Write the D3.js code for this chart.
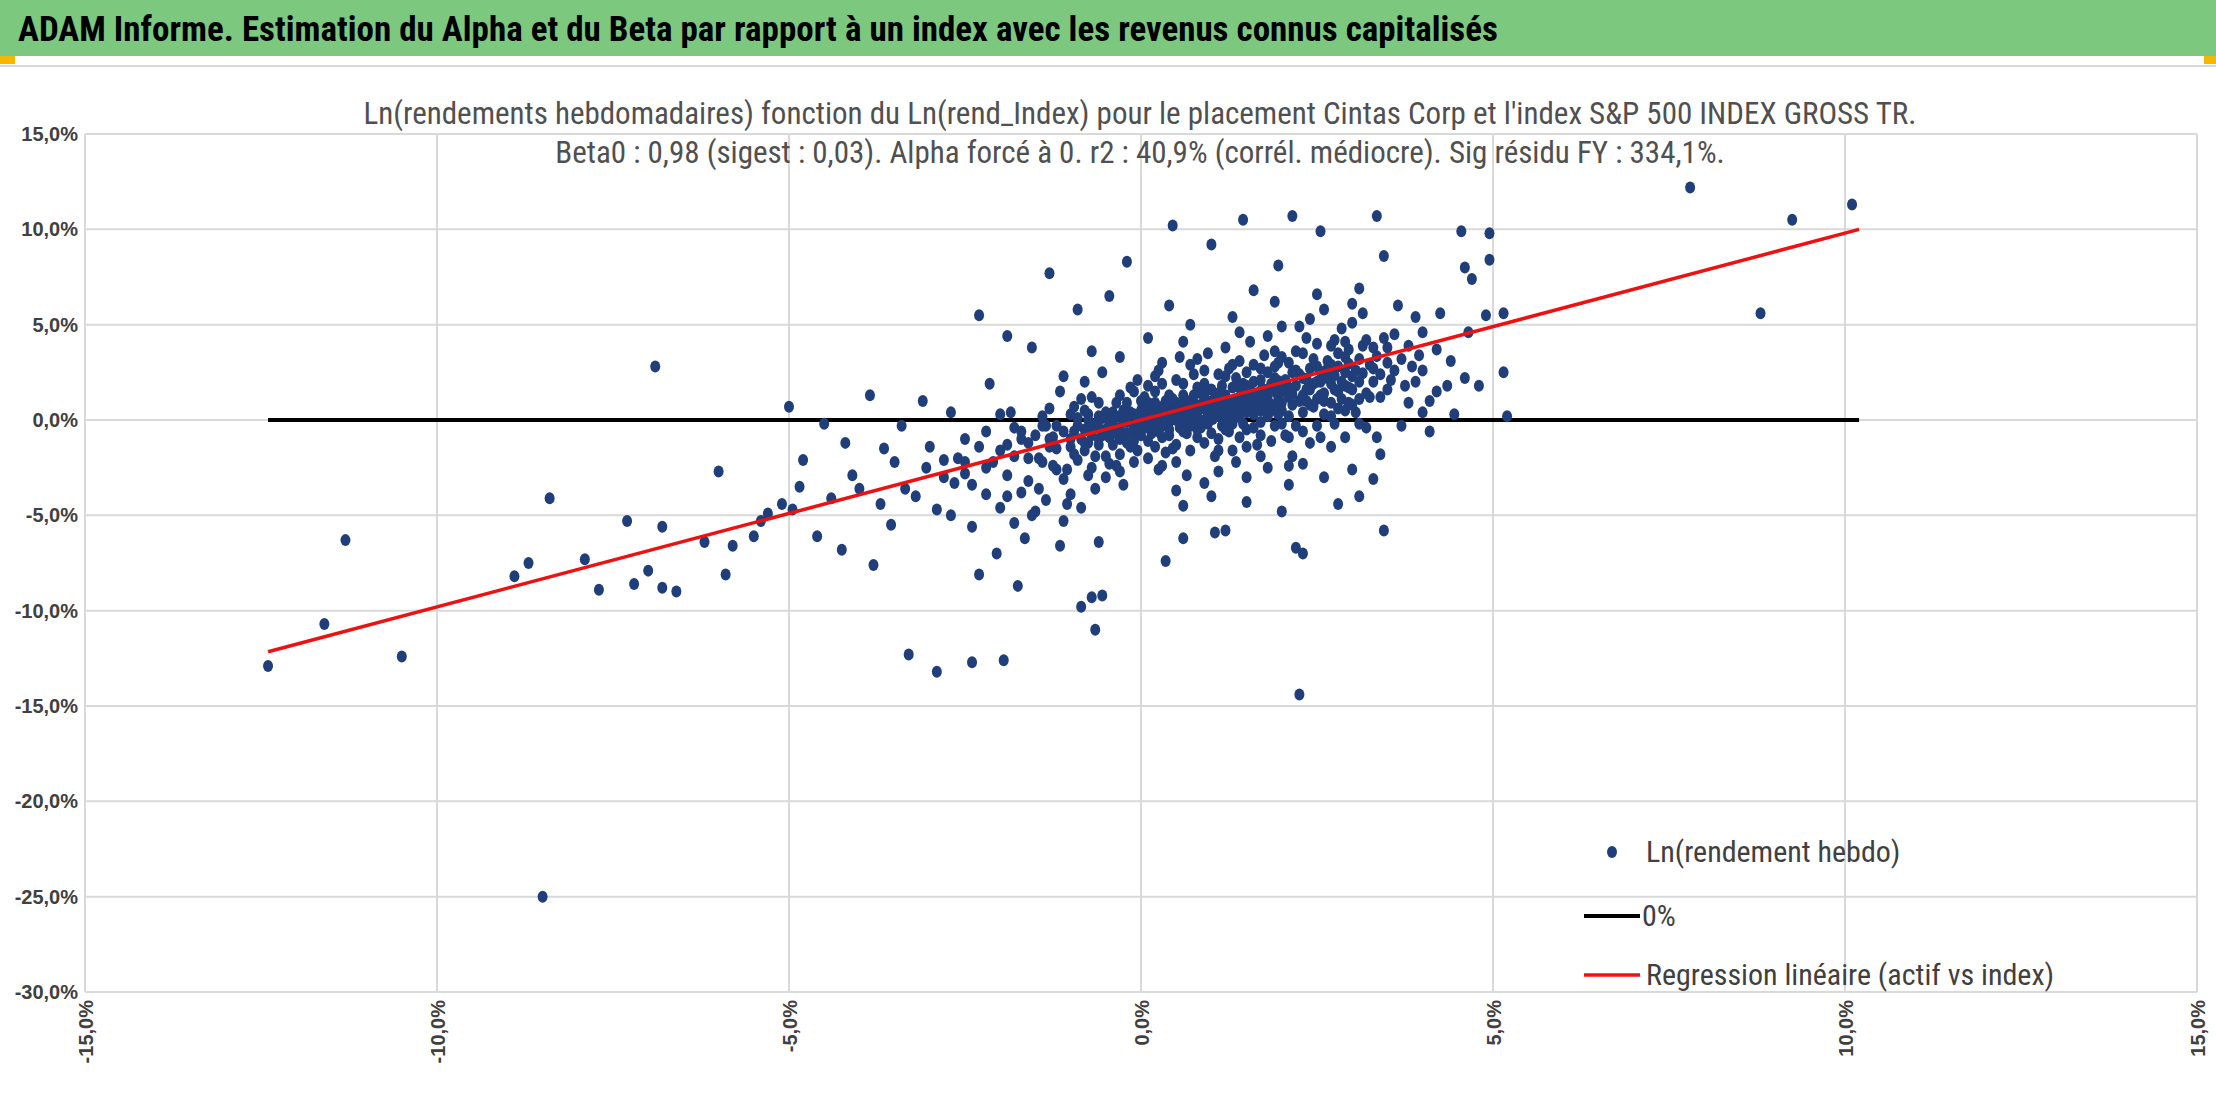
<!DOCTYPE html>
<html><head><meta charset="utf-8">
<script src="https://cdn.jsdelivr.net/npm/d3@7/dist/d3.min.js"></script>
<style>
body{margin:0;background:#fff;}
svg{display:block;font-family:"Liberation Sans Narrow","Roboto Condensed",Arial,sans-serif;}
</style></head>
<body><div id="chart"></div>
<script>
// weekly log returns (%): [index, asset]
const outliers = [
 [-12.4,-12.9],[-11.6,-10.7],[-11.3,-6.3],[-10.5,-12.4],[-8.9,-8.2],[-8.7,-7.5],[-8.4,-4.1],[-8.5,-25.0],
 [-7.9,-7.3],[-7.7,-8.9],[-7.3,-5.3],[-7.2,-8.6],[-7.0,-7.9],[-6.9,2.8],[-6.8,-5.6],[-6.8,-8.8],[-6.6,-9.0],
 [-6.2,-6.4],[-6.0,-2.7],[-5.9,-8.1],[-5.8,-6.6],[-5.5,-6.1],[-5.4,-5.3],[-5.3,-4.9],[-5.1,-4.4],[-5.0,0.7],
 [-4.95,-4.7],[-4.85,-3.5],[-4.8,-2.1],[-4.6,-6.1],[-4.5,-0.2],[-4.4,-4.1],[-4.25,-6.8],[-4.2,-1.2],[-4.1,-2.9],
 [-4.0,-3.6],[-3.85,1.3],[-3.8,-7.6],[-3.7,-4.4],[-3.65,-1.5],[-3.55,-5.5],[-3.4,-0.3],[-3.3,-12.3],[-3.35,-3.6],
 [-3.2,-4.0],[-3.1,1.0],[-3.05,-2.5],[-2.9,-13.2],[-2.9,-4.7],[-2.8,-2.1],[-2.7,0.4],[-2.65,-3.3],[-2.5,-1.0],
 [-2.4,-5.6],[-2.4,-12.7],[-2.3,-8.1],[-2.3,5.5],[-2.2,-2.5],[-2.15,1.9],[-2.05,-7.0],[-1.95,-12.6],[-1.9,-4.0],
 [-1.9,4.4],[-1.85,0.4],[-1.75,-8.7],[-1.7,-1.0],[-1.65,-6.2],[-1.55,3.8],[-1.45,-3.6],[-1.35,-0.3],[-1.3,7.7],
 [-1.25,-2.4],[-1.15,-6.6],[-1.1,2.3],[-1.05,-4.4],[-1.0,-1.0],[-0.9,5.8],[-0.85,-9.8],[-0.75,-2.9],[-0.7,-9.3],
 [-0.65,-11.0],[-0.55,-9.2],[-0.6,-6.4],[-0.5,0.4],[-0.45,6.5],[-0.2,8.3],[0.35,-7.4],[0.45,10.2],[0.6,-6.2],
 [1.05,-5.9],[1.2,-5.8],[1.0,9.2],[1.45,10.5],[1.95,8.1],[2.1,-3.4],[2.15,10.7],[2.2,-6.7],[2.3,-7.0],[2.25,-14.4],
 [2.55,9.9],[2.8,-4.4],[3.1,-4.0],[3.35,10.7],[3.45,8.6],[3.4,-1.8],[3.45,-5.8],[3.85,2.8],[4.0,0.4],[4.1,1.0],
 [4.25,5.6],[4.35,1.8],[4.45,0.3],[4.55,9.9],[4.6,8.0],[4.65,4.6],[4.7,7.4],[4.8,1.8],[4.9,5.5],[4.95,9.8],
 [4.95,8.4],[5.15,2.5],[5.2,0.2],[5.15,5.6],[7.8,12.2],[9.25,10.5],[8.8,5.6],[10.1,11.3]
];
const cloud = [
 [-1.5,-0.8],[-1.4,-2.2],[-1.3,0.6],[-1.2,-1.5],[-1.1,-3.1],[-1.0,0.3],[-0.95,-1.8],[-0.9,-2.1],[-0.85,1.1],[-0.8,-0.5],
 [-0.75,-1.2],[-0.7,1.2],[-0.65,-3.6],[-0.6,-1.3],[-0.55,0.1],[-0.5,-3.0],[-0.45,-0.9],[-0.4,-0.2],[-0.35,-2.4],[-0.3,-1.8],
 [-0.25,0.5],[-0.2,0.9],[-0.15,-1.4],[-0.1,-0.6],[-0.05,2.1],[0.0,0.2],[0.05,-0.4],[0.1,-1.1],[0.15,0.8],[0.2,1.5],
 [0.25,-2.6],[0.3,-0.3],[0.35,1.0],[0.4,0.6],[0.45,-1.5],[0.5,-2.2],[0.55,0.3],[0.6,1.9],[0.65,-0.7],[0.7,0.1],
 [0.75,2.4],[0.8,-0.9],[0.85,1.4],[0.9,2.6],[0.95,-0.2],[1.0,0.8],[1.05,-1.9],[1.1,-1.6],[1.15,1.8],[1.2,1.3],
 [1.25,-0.6],[1.3,0.4],[1.35,2.2],[1.4,3.1],[1.45,0.9],[1.5,-0.5],[1.55,1.6],[1.6,2.0],[1.65,-1.3],[1.7,1.0],
 [1.75,3.4],[1.8,-2.5],[1.85,0.5],[1.9,2.8],[1.95,1.2],[2.0,1.6],[2.05,-0.8],[2.1,0.2],[2.15,2.5],[2.2,3.6],
 [2.25,1.0],[2.3,2.2],[2.35,4.3],[2.4,-1.2],[2.45,0.7],[2.5,4.0],[2.55,2.0],[2.6,1.4],[2.65,3.1],[2.7,2.9],
 [2.75,-0.2],[2.8,0.6],[2.85,4.8],[2.9,3.3],[2.95,1.7],[3.0,5.1],[3.05,2.6],[3.1,2.0],[3.15,3.9],[3.2,-0.4],
 [3.25,1.2],[3.3,3.8],[3.4,2.4],[3.5,1.6],[3.6,4.5],[3.7,3.2],[3.8,0.9],[3.9,5.4],[4.0,2.6],[4.2,3.7],
 [-2.0,-1.6],[-1.9,-2.9],[-1.8,-0.4],[-1.7,-3.8],[-1.6,-1.2],[-1.55,-5.0],[-1.45,-2.0],[-1.35,-4.2],[-1.25,-0.9],[-1.15,1.5],
 [-1.05,-2.6],[-0.95,0.7],[-0.85,-4.6],[-0.75,0.0],[-0.65,-1.9],[-0.55,2.5],[-0.45,-2.3],[-0.35,0.9],[-0.25,-3.4],[-0.15,1.7],
 [-0.05,-1.6],[0.05,1.2],[0.15,-0.7],[0.25,2.6],[0.35,-1.7],[0.45,0.4],[0.55,3.3],[0.65,-2.9],[0.75,0.9],[0.85,-0.4],
 [0.95,3.5],[1.05,1.1],[1.15,-0.3],[1.25,2.7],[1.35,-2.2],[1.45,1.9],[1.55,4.1],[1.65,0.6],[1.75,1.5],[1.85,-1.1],
 [1.95,3.0],[2.05,2.1],[2.15,-1.9],[2.25,4.9],[2.35,1.6],[2.45,3.2],[2.55,-0.9],[2.65,2.3],[2.75,4.2],[2.85,1.1],
 [2.95,3.7],[3.05,0.4],[3.15,5.6],[3.25,2.9],[3.35,-0.9],[3.45,4.3],[3.55,2.1],[3.65,6.0],[3.75,1.8],[3.95,3.4],
 [-0.9,-0.3],[-0.8,0.5],[-0.7,-0.8],[-0.6,0.2],[-0.5,-0.5],[-0.4,0.4],[-0.3,-0.4],[-0.2,-0.1],[-0.1,0.3],[0.0,-0.3],
 [0.1,0.4],[0.2,-0.2],[0.3,0.7],[0.4,-0.1],[0.5,0.9],[0.6,0.2],[0.7,1.0],[0.8,0.4],[0.9,1.2],[1.0,0.3],
 [1.1,1.4],[1.2,0.5],[1.3,1.7],[1.4,0.6],[1.5,1.8],[1.6,0.9],[1.7,2.1],[1.8,1.1],[1.9,2.2],[2.0,0.9],
 [-0.6,-0.4],[-0.4,-0.7],[-0.2,0.1],[0.0,-0.8],[0.2,0.4],[0.4,-0.5],[0.6,0.8],[0.8,0.1],[1.0,1.0],[1.2,0.0],
 [1.4,1.2],[1.6,0.3],[1.8,1.6],[2.0,0.5],[2.2,1.8],[2.4,0.8],[2.6,2.2],[2.8,1.5],[3.0,2.3],[3.2,1.4],
 [-0.3,-1.0],[-0.1,-1.1],[0.1,0.9],[0.3,-0.9],[0.5,0.0],[0.7,-0.3],[0.9,0.6],[1.1,0.2],[1.3,-0.2],[1.5,0.4],
 [1.7,-0.1],[1.9,0.8],[2.1,1.2],[2.3,0.4],[2.5,1.1],[2.7,1.9],[2.9,2.5],[3.1,1.1],[3.3,2.0],[3.5,3.0],
 [-1.2,-0.3],[-1.0,-1.4],[-0.8,-1.6],[-0.6,0.9],[-0.4,-1.3],[-0.2,-0.7],[0.0,1.0],[0.2,-1.4],[0.4,1.3],[0.6,-0.6],
 [0.8,1.7],[1.0,-0.7],[1.2,2.3],[1.4,-0.9],[1.6,2.9],[1.8,0.2],[2.0,3.3],[2.2,-0.3],[2.4,2.7],[2.6,0.3],
 [2.8,3.5],[3.0,0.8],[3.2,4.2],[3.4,1.2],[3.6,2.6],[3.8,3.9],[4.0,4.6],[4.2,1.5],[4.4,3.1],[4.6,2.2],
 [-2.6,-2.0],[-2.4,-3.4],[-2.2,-0.6],[-2.0,-4.6],[-1.8,-1.9],[-1.6,-3.2],[-1.4,0.2],[-1.2,-2.6],[-1.0,-3.9],[-0.8,2.0],
 [0.3,3.0],[0.6,4.1],[0.9,-3.3],[1.2,3.8],[1.5,-3.0],[1.8,4.4],[2.1,-2.4],[2.4,5.3],[2.7,-1.4],[3.0,6.1],
 [0.2,2.3],[0.5,-3.7],[0.8,3.2],[1.1,-2.7],[1.4,4.6],[1.7,-1.9],[2.0,4.9],[2.3,-2.3],[2.6,5.8],[2.9,-0.9],
 [0.7,5.0],[1.3,5.4],[1.9,6.2],[2.5,6.6],[3.1,6.9],[0.1,4.3],[-0.3,3.3],[-0.7,3.6],[0.4,6.0],[1.6,6.8],
 [-3.5,-2.2],[-3.0,-1.4],[-2.7,-5.0],[-2.5,-2.8],[-2.2,-3.9],[-2.0,0.3],[-1.8,-5.4],[-1.5,-4.8],[-1.3,-1.4],[-1.1,-5.3],
 [0.6,-4.5],[1.0,-4.0],[1.5,-4.3],[2.0,-4.8],[2.6,-3.0],[3.0,-2.6],[3.3,-3.1],[3.7,-0.3],[4.1,-0.6],[3.9,2.0]
];
// dense core of the cloud
const core = [
 [-0.95,-0.6],[-0.85,-1.0],[-0.75,0.3],[-0.65,-0.2],[-0.55,-0.8],[-0.45,0.2],[-0.35,-0.5],[-0.25,-0.9],[-0.15,0.4],[-0.05,-0.2],
 [0.05,0.6],[0.15,0.1],[0.25,-0.6],[0.35,0.3],[0.45,1.1],[0.55,-0.4],[0.65,0.5],[0.75,-0.1],[0.85,0.8],[0.95,1.6],
 [1.05,0.5],[1.15,1.0],[1.25,0.2],[1.35,1.1],[1.45,-0.2],[1.55,0.7],[1.65,1.4],[1.75,0.6],[1.85,1.9],[1.95,0.3],
 [2.05,1.5],[2.15,0.8],[2.25,2.4],[2.35,1.0],[2.45,1.9],[2.55,1.3],[2.65,2.7],[2.75,1.6],[2.85,2.0],[2.95,0.9],
 [-0.9,0.1],[-0.7,-0.4],[-0.5,0.1],[-0.3,0.2],[-0.1,-0.4],[0.1,0.0],[0.3,0.2],[0.5,0.4],[0.7,0.6],[0.9,0.0],
 [1.1,0.7],[1.3,0.9],[1.5,1.2],[1.7,0.5],[1.9,1.5],[2.1,1.7],[2.3,1.3],[2.5,2.0],[2.7,0.9],[2.9,1.8],
 [-0.8,-1.2],[-0.6,-1.0],[-0.4,0.0],[-0.2,-1.2],[0.0,0.5],[0.2,0.9],[0.4,-0.8],[0.6,1.3],[0.8,-0.5],[1.0,1.6],
 [1.2,-0.5],[1.4,1.7],[1.6,-0.4],[1.8,2.5],[2.0,-0.2],[2.2,2.6],[2.4,1.6],[2.6,1.0],[2.8,2.8],[3.0,1.6],
 [-1.1,-0.6],[-1.3,-1.0],[-1.4,-0.3],[-1.6,-2.0],[-1.7,-0.6],[-1.9,-1.3],[-2.1,-2.2],[-2.3,-1.4],[-2.5,-2.2],[-2.8,-3.0],
 [-0.3,1.3],[-0.1,1.5],[0.1,1.8],[0.3,1.9],[0.5,2.1],[0.7,2.9],[0.9,1.9],[1.1,2.4],[1.3,2.9],[1.5,2.5],
 [1.7,2.7],[1.9,3.6],[2.1,3.0],[2.3,3.5],[2.5,2.8],[2.7,3.9],[2.9,4.1],[3.1,3.2],[3.3,2.7],[3.5,3.8],
 [-0.7,-2.5],[-0.5,-1.9],[-0.3,-2.7],[-0.1,-2.2],[0.1,-2.0],[0.3,-2.4],[0.5,-1.3],[0.7,-1.6],[0.9,-1.2],[1.1,-1.0],
 [1.3,-1.6],[1.5,-1.4],[1.7,-0.8],[1.9,-0.3],[2.1,-0.9],[2.3,-0.6],[2.5,-0.3],[2.7,0.2],[2.9,0.5],[3.1,-0.2],
 [-0.45,-0.35],[-0.25,0.15],[-0.05,0.05],[0.15,-0.35],[0.35,0.55],[0.55,0.75],[0.75,1.3],[0.95,0.4],[1.15,0.55],[1.35,0.15],
 [1.55,1.05],[1.75,1.15],[1.95,2.05],[2.15,1.35],[2.35,2.15],[2.55,2.55],[2.75,2.35],[2.95,2.95],[3.15,2.45],[3.35,3.35],
 [0.02,0.0],[0.12,0.25],[0.22,0.05],[0.32,-0.15],[0.42,0.35],[0.52,0.2],[0.62,-0.2],[0.72,0.35],[0.82,0.75],[0.92,0.95],
 [1.02,0.05],[1.12,1.2],[1.22,0.8],[1.32,0.45],[1.42,0.35],[1.52,1.45],[1.62,1.25],[1.72,1.65],[1.82,0.85],[1.92,1.75]
];
const pts = outliers.concat(cloud, core);
const xTicks = [-15,-10,-5,0,5,10,15];
const yTicks = [15,10,5,0,-5,-10,-15,-20,-25,-30];
const beta = 0.98;
const regX = [-12.4, 10.2];
const zeroX = [-12.4, 10.2];

const W = 2216, H = 1104;
const svg = d3.select("#chart").append("svg").attr("width", W).attr("height", H);

// header band
svg.append("rect").attr("x",0).attr("y",0).attr("width",W).attr("height",56).attr("fill","#7dc87f");
svg.append("rect").attr("x",0).attr("y",56).attr("width",15).attr("height",8).attr("fill","#f5b800");
svg.append("rect").attr("x",W-12).attr("y",56).attr("width",12).attr("height",8).attr("fill","#f5b800");
svg.append("line").attr("x1",0).attr("x2",W).attr("y1",66).attr("y2",66).attr("stroke","#d9d9d9").attr("stroke-width",2);
svg.append("text").attr("x",18).attr("y",41).text("ADAM Informe. Estimation du Alpha et du Beta par rapport à un index avec les revenus connus capitalisés")
  .attr("font-size",35).attr("font-weight","bold").attr("fill","#000");

const x = d3.scaleLinear().domain([-15,15]).range([85,2197]);
const y = d3.scaleLinear().domain([-30,15]).range([992,134]);
const fmt = d => d.toFixed(1).replace(".", ",") + "%";

// grid
svg.append("g").selectAll("line").data(yTicks).join("line")
  .attr("x1",x(-15)).attr("x2",x(15)).attr("y1",d=>y(d)).attr("y2",d=>y(d)).attr("stroke","#d9d9d9").attr("stroke-width",2);
svg.append("g").selectAll("line").data(xTicks).join("line")
  .attr("x1",d=>x(d)).attr("x2",d=>x(d)).attr("y1",y(15)).attr("y2",y(-30)).attr("stroke","#d9d9d9").attr("stroke-width",2);

// axes labels
const yAxis = svg.append("g").attr("transform",`translate(${x(-15)-4},0)`)
  .call(d3.axisLeft(y).tickValues(yTicks).tickFormat(fmt).tickSize(0));
yAxis.select(".domain").remove();
yAxis.selectAll("text").attr("font-size",20).attr("font-weight","bold").attr("fill","#404040")
  .attr("font-family","'Liberation Sans Narrow',Arial,sans-serif");
const xAxis = svg.append("g").attr("transform",`translate(0,${y(-30)+8})`)
  .call(d3.axisBottom(x).tickValues(xTicks).tickFormat(fmt).tickSize(0));
xAxis.select(".domain").remove();
xAxis.selectAll("text").attr("font-size",20).attr("font-weight","bold").attr("fill","#404040")
  .attr("font-family","'Liberation Sans Narrow',Arial,sans-serif")
  .attr("transform","rotate(-90)").attr("text-anchor","end").attr("dx",0).attr("dy","0.35em").attr("x",0).attr("y",0);

// subtitle
svg.append("text").attr("x",1140).attr("y",124).attr("text-anchor","middle").attr("font-size",31).attr("fill","#505050")
  .text("Ln(rendements hebdomadaires) fonction du Ln(rend_Index) pour le placement Cintas Corp et l'index S&P 500 INDEX GROSS TR.");
svg.append("text").attr("x",1140).attr("y",163).attr("text-anchor","middle").attr("font-size",31).attr("fill","#505050")
  .text("Beta0 : 0,98 (sigest : 0,03). Alpha forcé à 0. r2 : 40,9% (corrél. médiocre). Sig résidu FY : 334,1%.");

// zero line
svg.append("line").attr("x1",x(zeroX[0])).attr("x2",x(zeroX[1])).attr("y1",y(0)).attr("y2",y(0))
  .attr("stroke","#000").attr("stroke-width",4);

// points
svg.append("g").selectAll("ellipse").data(pts).join("ellipse")
  .attr("cx",d=>x(d[0])).attr("cy",d=>y(d[1])).attr("rx",5).attr("ry",6).attr("fill","#203f7a");

// regression
svg.append("line").attr("x1",x(regX[0])).attr("x2",x(regX[1])).attr("y1",y(beta*regX[0])).attr("y2",y(beta*regX[1]))
  .attr("stroke","#ee1111").attr("stroke-width",3.5);

// legend
const lg = svg.append("g").attr("font-size",30).attr("fill","#404040");
lg.append("ellipse").attr("cx",1612).attr("cy",852).attr("rx",5).attr("ry",6).attr("fill","#203f7a");
lg.append("text").attr("x",1646).attr("y",862).text("Ln(rendement hebdo)");
lg.append("line").attr("x1",1584).attr("x2",1640).attr("y1",916).attr("y2",916).attr("stroke","#000").attr("stroke-width",4);
lg.append("text").attr("x",1642).attr("y",926).text("0%");
lg.append("line").attr("x1",1584).attr("x2",1640).attr("y1",975).attr("y2",975).attr("stroke","#ee1111").attr("stroke-width",3.5);
lg.append("text").attr("x",1646).attr("y",985).text("Regression linéaire (actif vs index)");
</script></body></html>
